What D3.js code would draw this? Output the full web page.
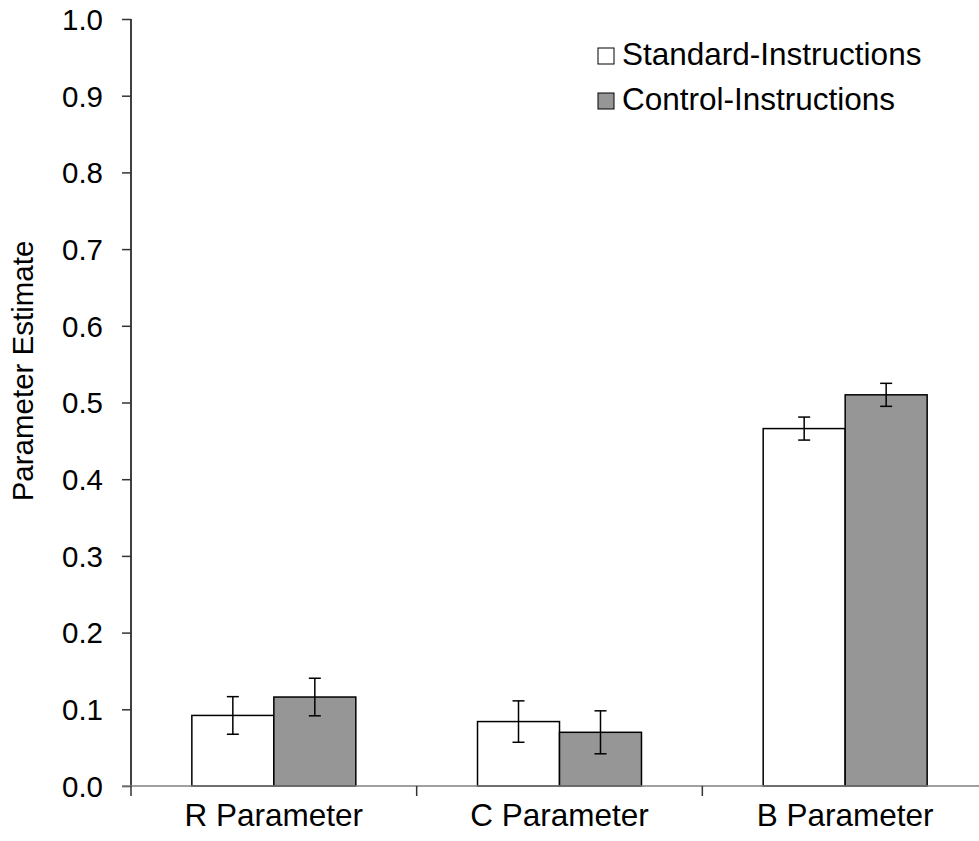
<!DOCTYPE html>
<html>
<head>
<meta charset="utf-8">
<script src="https://cdn.jsdelivr.net/npm/d3@7"></script>
<style>
  body { margin: 0; background: #fff; }
  text { font-family: "Liberation Sans", Arial, sans-serif; fill: #000; }
</style>
</head>
<body>
<svg id="chart" width="979" height="841"></svg>
<script>
var categories = ["R Parameter", "C Parameter", "B Parameter"];
var series = ["Standard-Instructions", "Control-Instructions"];
var standardValues = [0.092, 0.084, 0.466];
var standardErrors = [0.0245, 0.027, 0.015];
var controlValues = [0.116, 0.070, 0.510];
var controlErrors = [0.0245, 0.028, 0.015];
var yTicks = [0, 0.1, 0.2, 0.3, 0.4, 0.5, 0.6, 0.7, 0.8, 0.9, 1.0];

var svg = d3.select("#chart"),
    plotLeft = 131, plotRight = 988, plotTop = 19, plotBottom = 786;

var data = categories.map(function(c, i) {
    return {
        category: c,
        bars: [
            { key: series[0], value: standardValues[i], err: standardErrors[i] },
            { key: series[1], value: controlValues[i], err: controlErrors[i] }
        ]
    };
});

var color = d3.scaleOrdinal().domain(series).range(["#ffffff", "#969696"]);

var x = d3.scaleBand().domain(categories).range([plotLeft, plotRight]);
var groupWidth = x.bandwidth() * 0.574;
var xs = d3.scaleBand().domain(series).range([0, groupWidth]);
var y = d3.scaleLinear().domain([0, 1]).range([plotBottom, plotTop]);

// y axis
var yAxis = svg.append("g")
    .attr("transform", "translate(" + plotLeft + ",0)")
    .call(d3.axisLeft(y).tickValues(yTicks).tickFormat(d3.format(".1f")).tickSize(9).tickPadding(19));
yAxis.select(".domain").attr("stroke", "#000").attr("stroke-width", 1.5).attr("d", "M0," + plotTop + "V" + plotBottom);
yAxis.selectAll(".tick line").attr("stroke", "#333").attr("stroke-width", 1.5);
yAxis.selectAll(".tick text").style("font-size", "29.5px").attr("dy", "0.35em");

// bars
var group = svg.selectAll(".group")
    .data(data)
    .enter().append("g")
    .attr("class", "group")
    .attr("transform", function(d) { return "translate(" + (x(d.category) + (x.bandwidth() - groupWidth) / 2) + ",0)"; });

group.selectAll("rect")
    .data(function(d) { return d.bars; })
    .enter().append("rect")
    .attr("x", function(d) { return xs(d.key); })
    .attr("y", function(d) { return y(d.value); })
    .attr("width", xs.bandwidth())
    .attr("height", function(d) { return y(0) - y(d.value); })
    .attr("fill", function(d) { return color(d.key); })
    .attr("stroke", "#000")
    .attr("stroke-width", 1.5);

// error bars
var err = group.selectAll(".err")
    .data(function(d) { return d.bars; })
    .enter().append("g")
    .attr("class", "err")
    .attr("stroke", "#000")
    .attr("stroke-width", 1.5);
err.append("line")
    .attr("x1", function(d) { return xs(d.key) + xs.bandwidth() / 2; })
    .attr("x2", function(d) { return xs(d.key) + xs.bandwidth() / 2; })
    .attr("y1", function(d) { return y(d.value + d.err); })
    .attr("y2", function(d) { return y(d.value - d.err); });
[1, -1].forEach(function(s) {
    err.append("line")
        .attr("x1", function(d) { return xs(d.key) + xs.bandwidth() / 2 - 6; })
        .attr("x2", function(d) { return xs(d.key) + xs.bandwidth() / 2 + 6; })
        .attr("y1", function(d) { return y(d.value + s * d.err); })
        .attr("y2", function(d) { return y(d.value + s * d.err); });
});

// x axis
var xAxis = svg.append("g")
    .attr("transform", "translate(0," + plotBottom + ")")
    .call(d3.axisBottom(x).tickSize(0).tickPadding(40));
xAxis.select(".domain").attr("stroke", "#808080").attr("stroke-width", 1.5).attr("d", "M122,0H" + plotRight);
xAxis.selectAll(".tick text").style("font-size", "31.5px").attr("dy", "0");
xAxis.selectAll(".sep")
    .data(categories.concat([null]))
    .enter().append("line")
    .attr("class", "sep")
    .attr("x1", function(d, i) { return plotLeft + i * x.step(); })
    .attr("x2", function(d, i) { return plotLeft + i * x.step(); })
    .attr("y1", 0).attr("y2", 10)
    .attr("stroke", "#333").attr("stroke-width", 1.5);

// y label
svg.append("text")
    .attr("transform", "translate(33,371) rotate(-90)")
    .attr("text-anchor", "middle")
    .style("font-size", "29.5px")
    .text("Parameter Estimate");

// legend
var legend = svg.selectAll(".legend")
    .data(series)
    .enter().append("g")
    .attr("class", "legend")
    .attr("transform", function(d, i) { return "translate(598," + (48 + i * 45) + ")"; });
legend.append("rect")
    .attr("width", 16).attr("height", 16)
    .attr("fill", function(d) { return color(d); })
    .attr("stroke", "#000").attr("stroke-width", 1);
legend.append("text")
    .attr("x", 24).attr("y", 17)
    .style("font-size", "31.5px")
    .text(function(d) { return d; });
</script>
</body>
</html>
